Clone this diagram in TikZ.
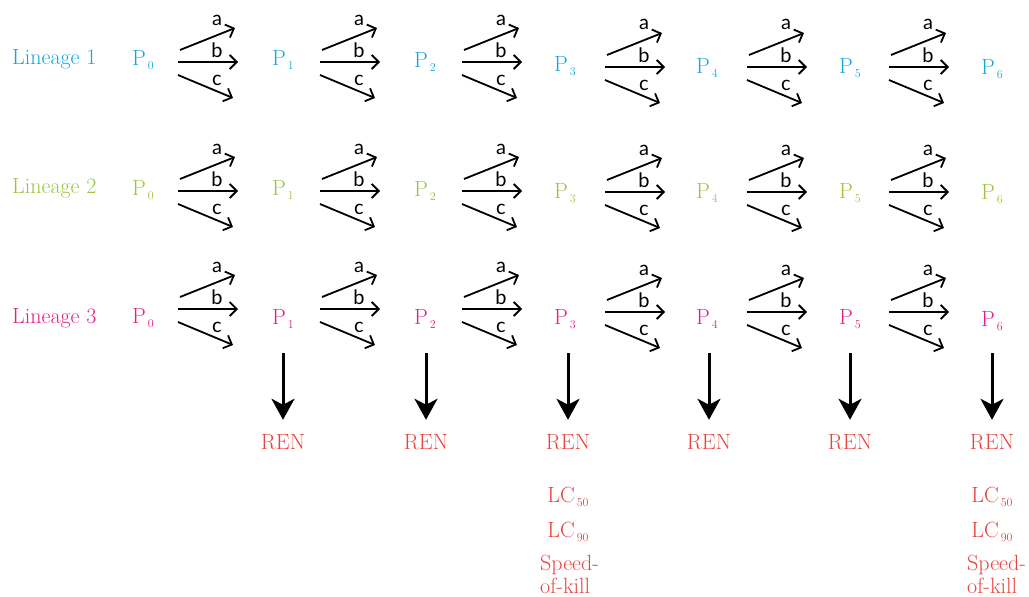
\documentclass[tikz,border=0pt]{standalone}
\usepackage{fontspec}
\newfontfamily\labfont{Lato}
\usetikzlibrary{arrows.meta,calc}
\definecolor{linA}{RGB}{20,165,222}
\definecolor{linB}{RGB}{155,196,60}
\definecolor{linC}{RGB}{228,30,135}
\definecolor{renred}{RGB}{232,68,62}
\newcommand\mysub[1]{\kern2pt\raisebox{-4pt}{\fontsize{12}{12}\selectfont #1}}
\tikzset{
  plab/.style={font=\fontsize{22}{26}\selectfont, inner sep=0pt, anchor=base},
  brarrow/.style={line width=1.8pt, -{Straight Barb[length=7pt,width=14pt]}},
  letter/.style={font=\labfont\fontsize{20}{22}\selectfont, inner sep=0pt, anchor=base},
  downarr/.style={line width=3pt, -{Stealth[length=21pt,width=23pt,inset=6pt]}},
  outtext/.style={text=renred, font=\fontsize{22}{23}\selectfont, inner sep=0pt, anchor=base},
}
% #1 row id, #2 colour, #3 lineage baseline, #4 P list i/x/base, #5 groups g/sx/by
\newcommand\drawrow[5]{%
  \node[plab, anchor=base west, text=#2] (lin#1) at (12,#3) {Lineage #1};
  \foreach \i/\x/\y in {#4} {\node[plab, text=#2] (p#1-\i) at (\x,\y) {P\mysub{\i}};}
  \foreach \g/\sx/\by in {#5} {
    \coordinate (as#1-\g) at ({\sx+2},{\by-12});
    \coordinate (ae#1-\g) at ({\sx+57},{\by-34});
    \coordinate (bs#1-\g) at (\sx,\by);
    \coordinate (be#1-\g) at ({\sx+60},\by);
    \coordinate (cs#1-\g) at (\sx,{\by+13});
    \coordinate (ce#1-\g) at ({\sx+55},{\by+36});
    \draw[brarrow] (as#1-\g) -- (ae#1-\g);
    \draw[brarrow] (bs#1-\g) -- (be#1-\g);
    \draw[brarrow] (cs#1-\g) -- (ce#1-\g);
    \node[letter] (la#1-\g) at ({\sx+39},{\by-37}) {a};
    \node[letter] (lb#1-\g) at ({\sx+39},{\by-5}) {b};
    \node[letter] (lc#1-\g) at ({\sx+39},{\by+23}) {c};
  }%
}
\begin{document}
\begin{tikzpicture}[x=1pt,y=-1pt]
\useasboundingbox (0,0) rectangle (1029,597);
\drawrow{1}{linA}{64}{0/143/65,1/283/65,2/425/67,3/565/71,4/707/73,5/850/73,6/992/74}{0/178/62,1/320/62,2/462/62,3/605/67,4/747/67,5/889/67}
\drawrow{2}{linB}{193}{0/143/195,1/283/195,2/425/196,3/565/198,4/707/198,5/850/198,6/992/199}{0/178/191,1/320/191,2/462/191,3/605/192,4/747/192,5/889/192}
\drawrow{3}{linC}{323}{0/143/323,1/283/324,2/425/324,3/565/324,4/707/324,5/850/324,6/992/326}{0/178/309,1/320/309,2/462/309,3/605/312,4/747/312,5/889/312}
\foreach \i/\x in {1/283,2/426,3/568,4/709,5/850,6/992} {
  \node[outtext] (ren\i) at (\x,449) {REN};
  \coordinate (dtop\i) at (\x,353);
  \draw[downarr, shorten >=14pt] (dtop\i) -- (ren\i.north);
}
\foreach \i/\x/\sx in {3/568/540,6/992/967} {
  \node[outtext] (lcf\i) at (\x,502) {LC\mysub{50}};
  \node[outtext] (lcn\i) at (\x,537) {LC\mysub{90}};
  \node[outtext, anchor=north west, align=left] (sok\i) at (\sx,555) {Speed-\\of-kill};
}
\end{tikzpicture}
\end{document}
